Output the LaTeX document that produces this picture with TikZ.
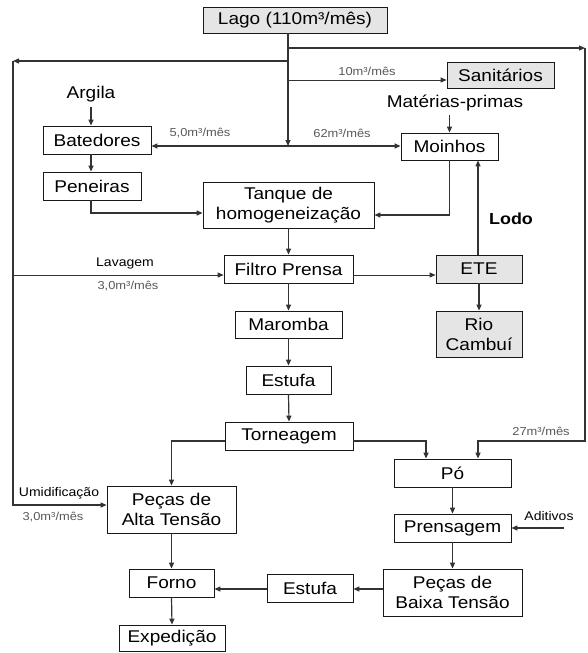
\documentclass[tikz,border=0pt]{standalone}
\usepackage{fontspec}
\setmainfont{Liberation Sans}[FakeStretch=1.12]
\usetikzlibrary{arrows.meta,shadows}
\begin{document}
\begin{tikzpicture}[x=1pt,y=-1pt,
  procbox/.style={draw=black!90, line width=0.8pt, fill=white, inner sep=0pt,
    font=\fontsize{17}{20}\selectfont, align=center,
    drop shadow={shadow xshift=1.3pt, shadow yshift=-1.3pt, fill=black!70, opacity=1}},
  graybox/.style={procbox, fill=black!10},
  conn/.style={draw=black!80, line width=1.2pt, -{Triangle[length=6pt,width=5pt]}},
  thinconn/.style={conn, line width=0.8pt},
  flowlbl/.style={font=\fontsize{11.5}{13}\selectfont, text=black!65, inner sep=0pt},
  sidelbl/.style={font=\fontsize{12.5}{14}\selectfont, inner sep=0pt},
  freetxt/.style={font=\fontsize{17}{20}\selectfont, inner sep=0pt}]
\useasboundingbox[fill=white] (0,0) rectangle (588,653);

% boxes
\node[graybox, minimum width=184pt, minimum height=26pt] (lago) at (295,20) {Lago (110m³/mês)};
\node[graybox, minimum width=107pt, minimum height=26pt] (sanit) at (500.5,75) {Sanitários};
\node[procbox, minimum width=108pt, minimum height=28pt] (bated) at (97,140) {Batedores};
\node[procbox, minimum width=97pt, minimum height=27pt] (moin) at (449.5,146.5) {Moinhos};
\node[procbox, minimum width=98pt, minimum height=28pt] (pene) at (92,186) {Peneiras};
\node[procbox, minimum width=171pt, minimum height=46pt] (tanque) at (288.5,205) {Tanque de\\homogeneização};
\node[procbox, minimum width=129pt, minimum height=28pt] (filtro) at (288.5,269) {Filtro Prensa};
\node[graybox, minimum width=86pt, minimum height=28pt] (ete) at (479,269) {ETE};
\node[graybox, minimum width=86pt, minimum height=46pt] (rio) at (479,334) {Rio\\Cambuí};
\node[procbox, minimum width=107pt, minimum height=27pt] (maromba) at (288.5,324.5) {Maromba};
\node[procbox, minimum width=85pt, minimum height=28pt] (estA) at (288.5,380) {Estufa};
\node[procbox, minimum width=128pt, minimum height=28pt] (torn) at (289,436) {Torneagem};
\node[procbox, minimum width=117pt, minimum height=28pt] (po) at (452.5,473) {Pó};
\node[procbox, minimum width=117pt, minimum height=28pt] (prens) at (452.5,528) {Prensagem};
\node[procbox, minimum width=129pt, minimum height=47pt] (pat) at (171.5,509.5) {Peças de\\Alta Tensão};
\node[procbox, minimum width=139pt, minimum height=47pt] (pbt) at (452.5,592.5) {Peças de\\Baixa Tensão};
\node[procbox, minimum width=86pt, minimum height=28pt] (estB) at (310,588) {Estufa};
\node[procbox, minimum width=85pt, minimum height=28pt] (forno) at (171.5,583) {Forno};
\node[procbox, minimum width=106pt, minimum height=26pt] (exped) at (172,638) {Expedição};

% free texts
\node[freetxt] (argila) at (91,94) {Argila};
\node[freetxt] (mp) at (455,103) {Matérias-primas};
\node[freetxt, font=\fontsize{16}{18}\selectfont\bfseries] (lodo) at (511,219) {Lodo};
\node[sidelbl] (aditivos) at (549,516) {Aditivos};
\node[sidelbl] (lavagem) at (125,263) {Lavagem};
\node[sidelbl] (umid) at (59,493) {Umidificação};
\node[flowlbl] (l10) at (367,71) {10m³/mês};
\node[flowlbl] (l5) at (200,133) {5,0m³/mês};
\node[flowlbl] (l62) at (342,133) {62m³/mês};
\node[flowlbl] (l3a) at (128,286) {3,0m³/mês};
\node[flowlbl] (l3b) at (53,517) {3,0m³/mês};
\node[flowlbl] (l27) at (541,431) {27m³/mês};

% junction coordinates
\coordinate (tR) at (288,48);
\coordinate (rTop) at (585,48);
\coordinate (rBot) at (585,441);
\coordinate (tL) at (288,61);
\coordinate (lTop) at (13,61);
\coordinate (tS) at (288,80);
\coordinate (jB) at (288,146);
\coordinate (yPT) at (0,213);
\coordinate (yMT) at (0,215);
\coordinate (yLav) at (0,275);
\coordinate (xLodo) at (478,0);
\coordinate (yT) at (0,441);
\coordinate (xP1) at (426,0);
\coordinate (xP2) at (478,0);
\coordinate (yU) at (0,505);
\coordinate (adS) at (564,528);
\coordinate (yE) at (0,589);

% connectors
\draw[conn] (jB |- lago.south) -- (jB);
\draw[conn] (tR) -- (rTop);
\draw[conn] (tL) -- (lTop);
\draw[thinconn] (tS) -- (tS -| sanit.west);
\draw[conn] (jB) -- (jB -| bated.east);
\draw[conn] (jB) -- (jB -| moin.west);
\draw[conn, shorten <=5pt] (argila.south) -- (argila |- bated.north);
\draw[conn] (argila |- bated.south) -- (argila |- pene.north);
\draw[conn] (argila |- pene.south) |- (tanque.west |- yPT);
\draw[conn, shorten <=4pt] (mp.south -| moin.north) -- (moin.north);
\draw[conn] (moin.south) |- (tanque.east |- yMT);
\draw[conn] (tanque.south) -- (filtro.north);
\draw[thinconn] (lTop |- yLav) -- (filtro.west |- yLav);
\draw[thinconn] (filtro.east |- yLav) -- (ete.west |- yLav);
\draw[conn] (xLodo |- ete.north) -- (xLodo |- moin.south);
\draw[conn] (ete.south) -- (rio.north);
\draw[conn] (filtro.south) -- (maromba.north);
\draw[conn] (maromba.south) -- (estA.north);
\draw[conn] (estA.south) -- (torn.north);
\draw[conn] (torn.west |- yT) -| (pat.north);
\draw[conn] (torn.east |- yT) -| (xP1 |- po.north);
\draw[conn] (rTop) -- (rBot) -| (xP2 |- po.north);
\draw[conn] (lTop) |- (pat.west |- yU);
\draw[conn] (po.south) -- (prens.north);
\draw[conn] (adS) -- (prens.east |- adS);
\draw[conn] (prens.south) -- (pbt.north);
\draw[conn] (pbt.west |- yE) -- (estB.east |- yE);
\draw[conn] (estB.west |- yE) -- (forno.east |- yE);
\draw[conn] (pat.south) -- (forno.north);
\draw[conn] (forno.south) -- (exped.north);
\end{tikzpicture}
\end{document}
